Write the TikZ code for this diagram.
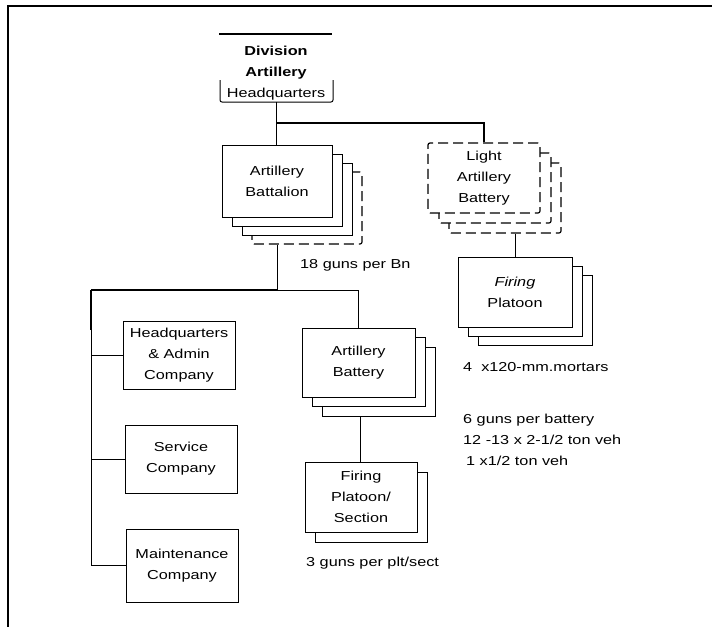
\documentclass[tikz,border=0pt]{standalone}
\usepackage{fontspec}
\setmainfont{Liberation Sans}[FakeStretch=1.25]
\begin{document}
\begin{tikzpicture}[x=1pt,y=1pt,
  txt/.style={font=\fontsize{13}{21}\selectfont, inner sep=0pt},
  unit/.style={draw, fill=white, line width=1pt, inner sep=0pt, align=center,
    font=\fontsize{13}{21}\selectfont},
  dashedunit/.style={unit, line width=1.2pt, dash pattern=on 10pt off 5pt, rounded corners=2pt},
  link/.style={line width=1pt},
  mainlink/.style={line width=1.6pt},
  note/.style={txt, anchor=west}
]
\useasboundingbox (0,0) rectangle (716,-627);

% page frame
\draw[line width=2.4pt] (7,-6) -- (712,-6);
\draw[line width=2pt] (8,-6) -- (8,-627);

% Division Artillery Headquarters
\node[txt, align=center] (dahq) at (276,-73)
  {\textbf{Division}\\ \textbf{Artillery}\\ Headquarters};
\draw[line width=1.6pt] (219,-34) -- (332,-34);
\draw[line width=1pt, rounded corners=2pt] (220,-80) -- (220,-102) -- (333,-102) -- (333,-80);
\coordinate (dahqs) at (276.5,-102);

% Artillery Battalion (stack of four)
\node[dashedunit, minimum width=110, minimum height=72] (bn3) at (307,-208) {};
\node[unit, minimum width=110, minimum height=72] (bn2) at (297,-199) {};
\node[unit, minimum width=110, minimum height=72] (bn1) at (287,-190) {};
\node[unit, minimum width=110, minimum height=72] (bn) at (277,-181) {Artillery\\Battalion};

% Light Artillery Battery (stack of three, dashed)
\node[dashedunit, minimum width=112, minimum height=70] (lab2) at (505,-198) {};
\node[dashedunit, minimum width=112, minimum height=70] (lab1) at (495,-188) {};
\node[dashedunit, minimum width=112, minimum height=70] (lab) at (484,-178) {Light\\Artillery\\Battery};

% Firing Platoon (stack of three)
\node[unit, minimum width=114, minimum height=70] (fp2) at (535,-310) {};
\node[unit, minimum width=114, minimum height=70] (fp1) at (525,-301) {};
\node[unit, minimum width=114, minimum height=70] (fp) at (515,-292) {\textit{Firing}\\Platoon};

% Battalion companies
\node[unit, minimum width=112, minimum height=68] (hqc) at (179,-355) {Headquarters\\\&\ Admin\\Company};
\node[unit, minimum width=112, minimum height=68] (svc) at (181,-459) {Service\\Company};
\node[unit, minimum width=112, minimum height=73] (mnt) at (182,-565.5) {Maintenance\\Company};

% Artillery Battery (stack of three)
\node[unit, minimum width=113, minimum height=69] (ab2) at (378.5,-381.5) {};
\node[unit, minimum width=113, minimum height=69] (ab1) at (368.5,-372) {};
\node[unit, minimum width=113, minimum height=69] (ab) at (358.5,-362.5) {Artillery\\Battery};

% Firing Platoon/Section (stack of two)
\node[unit, minimum width=112, minimum height=70] (fps1) at (371,-507) {};
\node[unit, minimum width=112, minimum height=70] (fps) at (361,-497) {Firing\\Platoon/\\Section};

% connectors
\coordinate (j1) at (276.5,-123);
\draw[link] (dahqs) -- (j1) -- (bn.north -| j1);
\draw[mainlink] (j1) -| (lab.north);
\coordinate (j2) at (277,-290);
\coordinate (j3) at (91,-290);
\draw[link] (bn3.south -| j2) -- (j2);
\draw[mainlink] (j3) -- (j2);
\draw[link] (j2) -| (ab.north);
\draw[mainlink] (j3) -- (91,-330);
\draw[link] (91,-330) |- (mnt.west);
\draw[link] (hqc.west) -- (hqc.west -| j3);
\draw[link] (svc.west) -- (svc.west -| j3);
\draw[link] (ab2.south -| 360,0) -- (fps.north -| 360,0);
\draw[link] (lab2.south -| 515,0) -- (fp.north);

% notes
\node[note] (n1) at (300,-265) {18 guns per Bn};
\node[note] (n2) at (463,-367) {4\ \ x120-mm.mortars};
\node[note] (n3) at (463,-420) {6 guns per battery};
\node[note] (n4) at (463,-440) {12 -13 x 2-1/2 ton veh};
\node[note] (n5) at (466,-461) {1 x1/2 ton veh};
\node[note] (n6) at (306,-563) {3 guns per plt/sect};
\end{tikzpicture}
\end{document}
